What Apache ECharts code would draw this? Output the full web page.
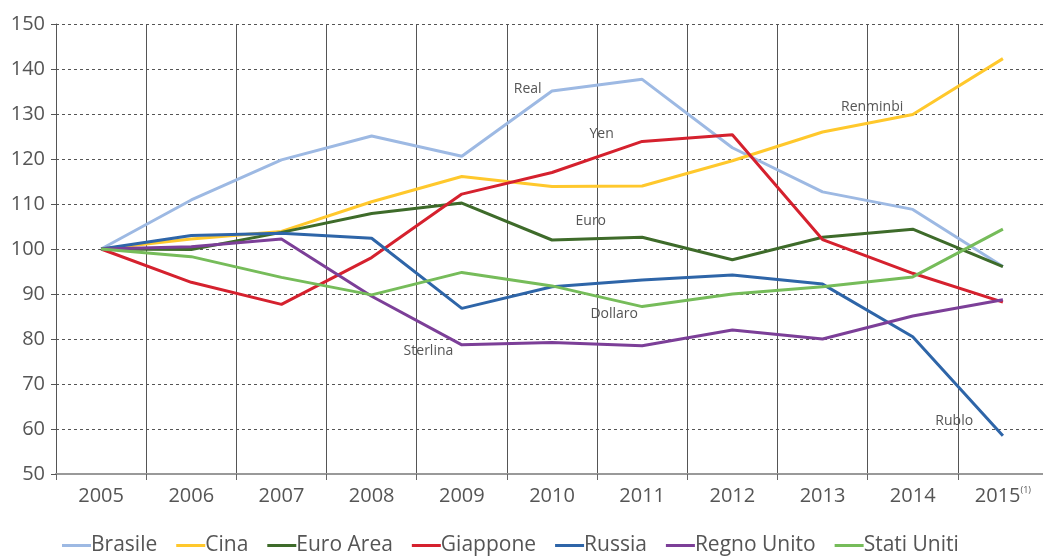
<!DOCTYPE html>
<html>
<head>
<meta charset="utf-8">
<script src="https://cdn.jsdelivr.net/npm/echarts@6/dist/echarts.min.js"></script>
<style>
  html, body { margin: 0; padding: 0; background: #fff; overflow: hidden; }
  #main { width: 1048px; height: 556px; }
</style>
</head>
<body>
<div id="main"></div>
<script>
  // dati (indice 2005 = 100)
  var years = ['2005','2006','2007','2008','2009','2010','2011','2012','2013','2014','2015'];
  var brasile    = [100, 110.9, 119.8, 125.1, 120.6, 135.1, 137.7, 122.5, 112.7, 108.8, 96.1];
  var cina       = [100, 102.2, 103.9, 110.5, 116.1, 113.9, 114.0, 119.6, 126.0, 129.9, 142.3];
  var euroArea   = [100, 99.9, 103.7, 107.9, 110.2, 102.0, 102.6, 97.6, 102.6, 104.4, 96.1];
  var giappone   = [100, 92.6, 87.7, 98.1, 112.2, 117.0, 123.9, 125.4, 102.1, 94.6, 88.2];
  var russia     = [100, 103.0, 103.5, 102.4, 86.8, 91.6, 93.1, 94.2, 92.2, 80.5, 58.5];
  var regnoUnito = [100, 100.5, 102.2, 89.5, 78.7, 79.2, 78.5, 82.0, 80.0, 85.1, 88.7];
  var statiUniti = [100, 98.3, 93.7, 89.8, 94.8, 91.8, 87.2, 90.0, 91.6, 93.8, 104.4];
  var yTicks = [50, 150, 10];

  // etichette delle valute: [testo, indice categoria, valore]
  var currencyLabels = [
    ['Real', 4.73, 135.6],
    ['Yen', 5.55, 125.6],
    ['Euro', 5.43, 106.2],
    ['Renminbi', 8.55, 131.6],
    ['Dollaro', 5.69, 85.6],
    ['Sterlina', 3.63, 77.3],
    ['Rublo', 9.46, 61.8]
  ];

  var font = '"Open Sans", "Noto Sans", sans-serif';
  var myChart = echarts.init(document.getElementById('main'));

  function line(name, data, color) {
    return {
      name: name,
      type: 'line',
      data: data,
      symbol: 'none',
      lineStyle: { color: color, width: 3 },
      itemStyle: { color: color },
      emphasis: { disabled: true },
      z: 3
    };
  }

  var option = {
    animation: false,
    textStyle: { fontFamily: font },
    grid: { left: 56, top: 24, right: 0, height: 450, containLabel: false },
    xAxis: {
      type: 'category',
      data: years,
      boundaryGap: true,
      axisLine: { show: true, lineStyle: { color: '#999', width: 2 } },
      axisTick: { show: true, length: 6, interval: 0, lineStyle: { color: '#666', width: 1 } },
      splitLine: { show: true, interval: 0, lineStyle: { color: '#555', width: 1 } },
      axisLabel: {
        interval: 0,
        margin: 12,
        color: '#555',
        fontSize: 20,
        fontFamily: font,
        formatter: function (v) {
          return v === '2015' ? '2015{sup|(1)}' : v;
        },
        rich: {
          sup: { fontSize: 9, verticalAlign: 'top', padding: [0, 0, 12, 0], color: '#555', fontFamily: font }
        }
      }
    },
    yAxis: {
      type: 'value',
      min: yTicks[0],
      max: yTicks[1],
      interval: yTicks[2],
      axisLine: { show: true, lineStyle: { color: '#555', width: 1 } },
      axisTick: { show: true, length: 5, lineStyle: { color: '#555' } },
      axisLabel: { color: '#555', fontSize: 20, fontFamily: font, margin: 11 },
      splitLine: { show: true, lineStyle: { color: '#555', width: 1, type: [3, 3] } }
    },
    legend: {
      top: 530,
      left: 57,
      icon: 'rect',
      itemWidth: 29,
      itemHeight: 3,
      itemGap: 19,
      textStyle: { color: '#555', fontSize: 21, fontFamily: font, padding: [0, 0, 0, -5] },
      selectedMode: false
    },
    series: [
      line('Brasile', brasile, '#9DB9E3'),
      line('Cina', cina, '#FFC82C'),
      line('Euro Area', euroArea, '#3E6B2A'),
      line('Giappone', giappone, '#D5212E'),
      line('Russia', russia, '#2E65A8'),
      line('Regno Unito', regnoUnito, '#7C3F98'),
      line('Stati Uniti', statiUniti, '#76BC5A')
    ]
  };

  myChart.setOption(option);

  // etichette posizionate con la scala del grafico
  function toPixel(idx, val) {
    var i0 = Math.floor(idx), f = idx - i0;
    var a = myChart.convertToPixel({ gridIndex: 0 }, [i0, val]);
    var b = myChart.convertToPixel({ gridIndex: 0 }, [i0 + 1, val]);
    return [a[0] + (b[0] - a[0]) * f, a[1]];
  }

  myChart.setOption({
    graphic: currencyLabels.map(function (l) {
      var p = toPixel(l[1], l[2]);
      return {
        type: 'text',
        x: p[0],
        y: p[1],
        silent: true,
        z: 10,
        style: {
          text: l[0],
          fill: '#555',
          fontSize: 14,
          fontFamily: font,
          align: 'center',
          verticalAlign: 'middle'
        }
      };
    })
  });
</script>
</body>
</html>
